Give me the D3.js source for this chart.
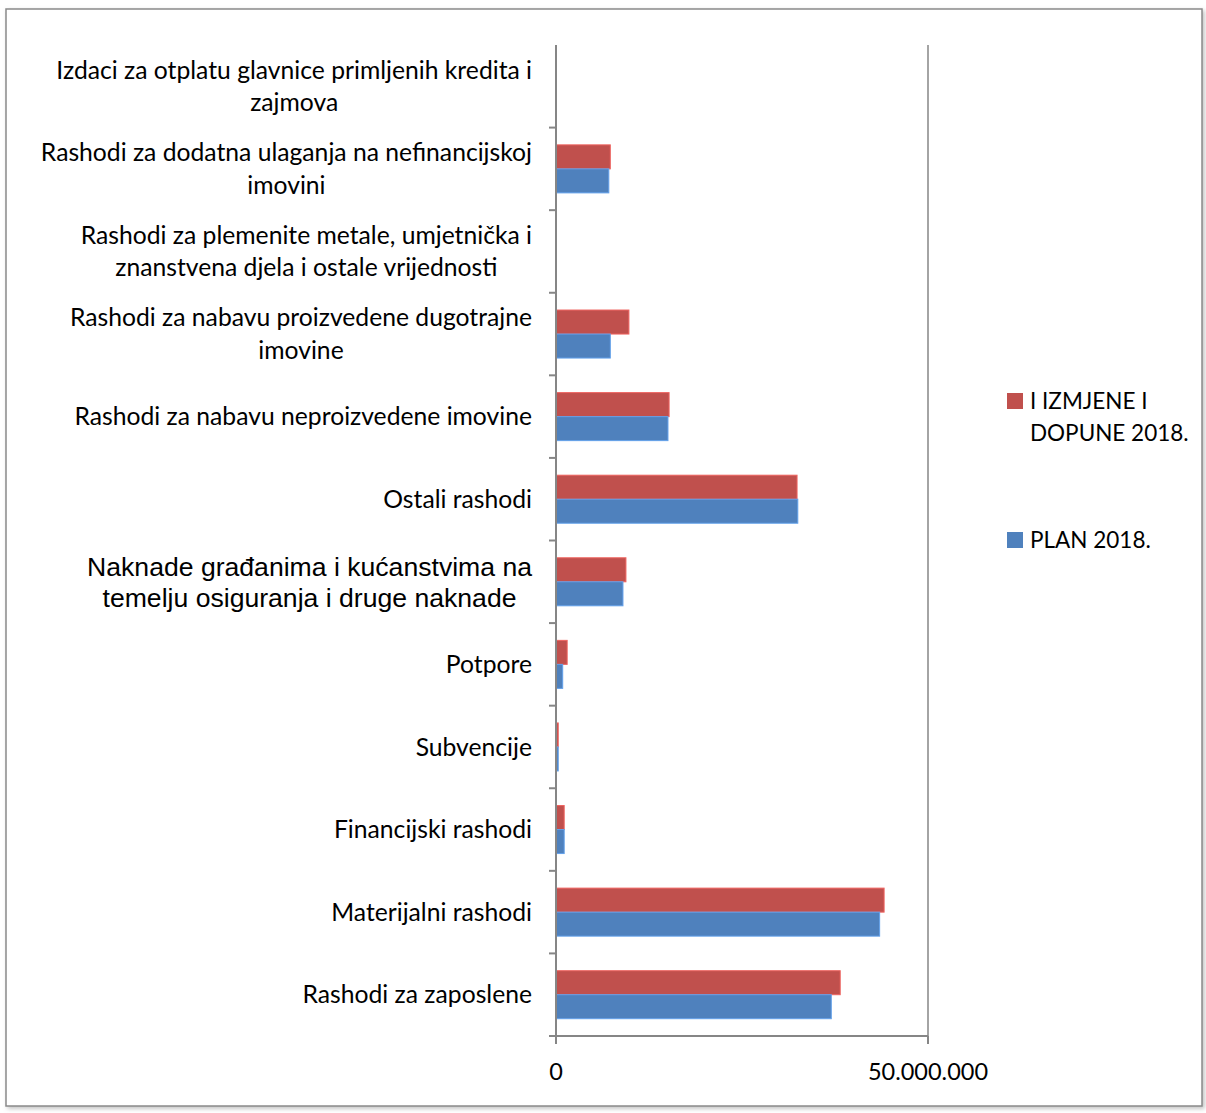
<!DOCTYPE html>
<html>
<head>
<meta charset="utf-8">
<script src="https://d3js.org/d3.v7.min.js"></script>
<style>
  body { margin: 0; background: #fff; }
  text { font-family: Lato, "Open Sans", sans-serif; fill: #000; }
</style>
</head>
<body>
<div id="chart"></div>
<script>
// categories from top to bottom, as in the chart
var categories = [
  ["Izdaci za otplatu glavnice primljenih kredita i", "zajmova"],
  ["Rashodi za dodatna ulaganja na nefinancijskoj", "imovini"],
  ["Rashodi za plemenite metale, umjetnička i", "znanstvena djela i ostale vrijednosti"],
  ["Rashodi za nabavu proizvedene dugotrajne", "imovine"],
  ["Rashodi za nabavu neproizvedene imovine"],
  ["Ostali rashodi"],
  ["Naknade građanima i kućanstvima na", "temelju osiguranja i druge naknade"],
  ["Potpore"],
  ["Subvencije"],
  ["Financijski rashodi"],
  ["Materijalni rashodi"],
  ["Rashodi za zaposlene"]
];
var izmjene2018 = [0, 7300000, 0, 9800000, 15200000, 32400000, 9400000, 1500000, 300000, 1100000, 44100000, 38200000];
var plan2018    = [0, 7100000, 0, 7300000, 15050000, 32500000, 9000000, 900000, 300000, 1100000, 43500000, 37000000];
var seriesNames = [["I IZMJENE I", "DOPUNE 2018."], ["PLAN 2018."]];
var xTicks = [0, 50000000];

var colors = ["#C0504D", "#4F81BD"];

var svgWidth = 1206, svgHeight = 1113;
var svg = d3.select("#chart").append("svg")
  .attr("width", svgWidth)
  .attr("height", svgHeight);

// frame with soft shadow
var defs = svg.append("defs");
var f = defs.append("filter").attr("id", "shadow").attr("x", "-5%").attr("y", "-5%").attr("width", "110%").attr("height", "110%");
f.append("feDropShadow").attr("dx", 2).attr("dy", 2).attr("stdDeviation", 2).attr("flood-color", "#999").attr("flood-opacity", 0.6);

svg.append("rect")
  .attr("x", 6).attr("y", 9)
  .attr("width", 1196).attr("height", 1097)
  .attr("fill", "#fff")
  .attr("stroke", "#8a8a8a")
  .attr("stroke-width", 1.5)
  .attr("filter", "url(#shadow)");

var plot = {left: 556, right: 928, top: 45, bottom: 1036};

var x = d3.scaleLinear()
  .domain([0, 50000000])
  .range([plot.left, plot.right]);

var y = d3.scaleBand()
  .domain(d3.range(categories.length))
  .range([plot.top, plot.bottom]);

var inner = d3.scaleBand()
  .domain([0, 1])
  .range([0, y.bandwidth()])
  .paddingOuter(0.72)
  .paddingInner(0);

// gridline at 50.000.000
svg.append("line")
  .attr("x1", x(50000000)).attr("x2", x(50000000))
  .attr("y1", plot.top).attr("y2", plot.bottom)
  .attr("stroke", "#868686").attr("stroke-width", 1.5);

// bars
var series = [izmjene2018, plan2018];
series.forEach(function(vals, si) {
  svg.append("g").selectAll("rect")
    .data(vals)
    .join("rect")
      .attr("x", x(0))
      .attr("y", (d, i) => y(i) + inner(si))
      .attr("width", d => x(d) - x(0))
      .attr("height", inner.bandwidth())
      .attr("fill", colors[si])
      .attr("stroke", d3.color(colors[si]).brighter(0.6))
      .attr("stroke-width", d => d > 0 ? 1 : 0);
});

// category axis (left)
var yAxis = svg.append("g")
  .attr("transform", "translate(" + plot.left + ",0)");
yAxis.append("line")
  .attr("x1", 0).attr("x2", 0)
  .attr("y1", plot.top).attr("y2", plot.bottom)
  .attr("stroke", "#868686").attr("stroke-width", 2);
yAxis.selectAll(".tick")
  .data(d3.range(categories.length))
  .join("line")
    .attr("x1", -7).attr("x2", 0)
    .attr("y1", d => y(d) + y.bandwidth())
    .attr("y2", d => y(d) + y.bandwidth())
    .attr("stroke", "#868686").attr("stroke-width", 2);

// value axis (bottom)
var xAxis = svg.append("g");
xAxis.append("line")
  .attr("x1", plot.left - 7).attr("x2", plot.right)
  .attr("y1", plot.bottom).attr("y2", plot.bottom)
  .attr("stroke", "#868686").attr("stroke-width", 2);
xAxis.selectAll(".tk")
  .data(xTicks)
  .join("line")
    .attr("x1", d => x(d)).attr("x2", d => x(d))
    .attr("y1", plot.bottom).attr("y2", plot.bottom + 8)
    .attr("stroke", "#868686").attr("stroke-width", 2);
xAxis.selectAll("text")
  .data(xTicks)
  .join("text")
    .attr("x", d => x(d))
    .attr("y", plot.bottom + 36)
    .attr("dy", "0.35em")
    .attr("text-anchor", "middle")
    .style("font-size", "23.5px")
    .text(d => d3.format(",")(d).replace(/,/g, "."));

// category labels: block right-aligned, lines centred
var labelRight = 532;
categories.forEach(function(lines, i) {
  var isArial = i === 6;
  var g = svg.append("g");
  var texts = g.selectAll("text")
    .data(lines)
    .join("text")
      .style("font-size", isArial ? "26.6px" : "24.7px")
      .style("font-family", isArial ? "'Liberation Sans', Arial, sans-serif" : null)
      .attr("dy", "0.35em")
      .text(d => d);
  var maxW = 0;
  texts.each(function() { maxW = Math.max(maxW, this.getComputedTextLength()); });
  var cy = y(i) + y.bandwidth() / 2;
  texts
    .attr("text-anchor", "middle")
    .attr("x", labelRight - maxW / 2)
    .attr("y", (d, j) => cy + (j - (lines.length - 1) / 2) * (isArial ? 31 : 32.5));
});

// legend
var legend = svg.append("g");
var legendY = [401, 540];
seriesNames.forEach(function(lines, si) {
  legend.append("rect")
    .attr("x", 1007).attr("y", legendY[si] - 8)
    .attr("width", 16).attr("height", 16)
    .attr("fill", colors[si]);
  legend.append("g").selectAll("text")
    .data(lines)
    .join("text")
      .attr("x", 1030)
      .attr("y", (d, j) => legendY[si] + j * 32)
      .attr("dy", "0.35em")
      .style("font-size", "22.5px")
      .text(d => d);
});
</script>
</body>
</html>
